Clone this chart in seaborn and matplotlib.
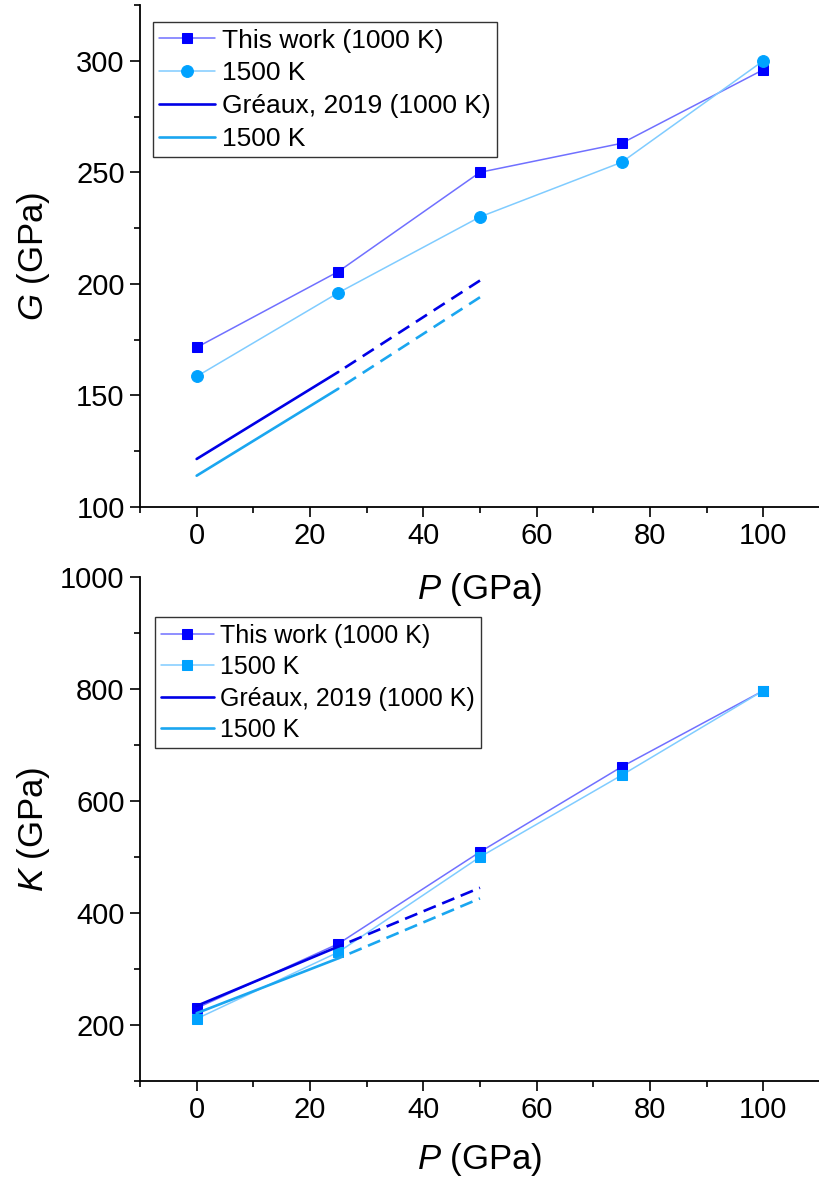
import matplotlib
matplotlib.use("Agg")
import matplotlib.pyplot as plt
from matplotlib.ticker import MultipleLocator
import seaborn as sns

# pressures (GPa)
pressure = [0, 25, 50, 75, 100]

# shear modulus G (GPa), this work
g_1000 = [171.5, 205.5, 250.0, 263.0, 296.0]
g_1500 = [158.5, 196.0, 230.0, 254.5, 300.0]
# Greaux 2019: solid over the measured range, dashed extrapolation
greaux_p_solid = [0, 25]
greaux_p_dash = [25, 50]
g_greaux_1000 = [121.5, 160.5, 201.5]
g_greaux_1500 = [114.0, 153.0, 194.0]

# bulk modulus K (GPa), this work
k_1000 = [230, 345, 509, 661, 797]
k_1500 = [211, 330, 500, 646, 797]
k_greaux_1000 = [234, 340, 445]
k_greaux_1500 = [221, 319, 426]

labels = ["This work (1000 K)", "1500 K", "Gréaux, 2019 (1000 K)", "1500 K"]

c_work1000_line = "#7070ff"
c_work1000_mark = "#0000ff"
c_work1500_line = "#80ccff"
c_work1500_mark = "#00a2ff"
c_gr1000 = "#0000e6"
c_gr1500 = "#1aa6f0"

sns.set_style("ticks")
plt.rcParams["font.family"] = ["Liberation Sans", "DejaVu Sans"]
plt.rcParams["mathtext.fontset"] = "custom"
plt.rcParams["mathtext.rm"] = "Liberation Sans"
plt.rcParams["mathtext.it"] = "Liberation Sans:italic"
for key in ["text.color", "axes.labelcolor", "xtick.color", "ytick.color"]:
    plt.rcParams[key] = "black"

fig = plt.figure(figsize=(8.2, 11.85), dpi=100)
ax_g = fig.add_axes([0.1707, 0.5722, 0.8293, 0.4236])
ax_k = fig.add_axes([0.1707, 0.0878, 0.8293, 0.4253])
ax_k.set_facecolor("none")


def draw_panel(ax, y1000, y1500, gr1000, gr1500, mark1500, ms1500, dash_style):
    sns.lineplot(x=pressure, y=y1000, ax=ax, color=c_work1000_line, lw=1.1,
                 marker="s", markersize=7.5, markerfacecolor=c_work1000_mark,
                 markeredgecolor=c_work1000_mark, label=labels[0])
    sns.lineplot(x=pressure, y=y1500, ax=ax, color=c_work1500_line, lw=1.1,
                 marker=mark1500, markersize=ms1500, markerfacecolor=c_work1500_mark,
                 markeredgecolor=c_work1500_mark, label=labels[1])
    sns.lineplot(x=greaux_p_solid, y=gr1000[:2], ax=ax, color=c_gr1000, lw=1.9,
                 label=labels[2])
    sns.lineplot(x=greaux_p_solid, y=gr1500[:2], ax=ax, color=c_gr1500, lw=1.9,
                 label=labels[3])
    sns.lineplot(x=greaux_p_dash, y=gr1000[1:], ax=ax, color=c_gr1000, lw=1.9,
                 legend=False)
    sns.lineplot(x=greaux_p_dash, y=gr1500[1:], ax=ax, color=c_gr1500, lw=1.9,
                 legend=False)
    ax.lines[-1].set_linestyle(dash_style)
    ax.lines[-2].set_linestyle(dash_style)

    ax.set_xlim(-10, 110)
    ax.xaxis.set_major_locator(MultipleLocator(20))
    ax.xaxis.set_minor_locator(MultipleLocator(10))
    sns.despine(ax=ax)
    for s in ["left", "bottom"]:
        ax.spines[s].set_linewidth(1.3)
        ax.spines[s].set_color("black")
    ax.tick_params(which="major", direction="out", length=7, width=1.2,
                   labelsize=21, pad=4, colors="black")
    ax.tick_params(which="minor", direction="out", length=4, width=1.2)
    ax.set_xlabel(r"$P$ (GPa)", fontsize=25)


draw_panel(ax_g, g_1000, g_1500, g_greaux_1000, g_greaux_1500, "o", 8.5,
           (5, (5, 3)))
ax_g.set_ylim(100, 325)
ax_g.yaxis.set_major_locator(MultipleLocator(50))
ax_g.yaxis.set_minor_locator(MultipleLocator(25))
ax_g.set_ylabel(r"$G$ (GPa)", fontsize=25)
ax_g.yaxis.set_label_coords(-0.13, 0.5)
ax_g.xaxis.set_label_coords(0.5, -0.128)
ax_g.legend(loc="upper left", bbox_to_anchor=(0.019, 0.966), fontsize=19,
            frameon=True, fancybox=False, edgecolor="#333333", framealpha=1,
            handlelength=2.1, handletextpad=0.25, labelspacing=0.33,
            borderpad=0.25, borderaxespad=0)

draw_panel(ax_k, k_1000, k_1500, k_greaux_1000, k_greaux_1500, "s", 7.5,
           (3, (5, 2.6)))
ax_k.set_ylim(100, 1000)
ax_k.yaxis.set_major_locator(MultipleLocator(200))
ax_k.yaxis.set_minor_locator(MultipleLocator(100))
ax_k.set_ylabel(r"$K$ (GPa)", fontsize=25)
ax_k.yaxis.set_label_coords(-0.13, 0.5)
ax_k.xaxis.set_label_coords(0.5, -0.12)
ax_k.legend(loc="upper left", bbox_to_anchor=(0.022, 0.92), fontsize=18,
            frameon=True, fancybox=False, edgecolor="#333333", framealpha=1,
            handlelength=2.1, handletextpad=0.25, labelspacing=0.3,
            borderpad=0.25, borderaxespad=0)

fig.savefig("out.png", dpi=100)
